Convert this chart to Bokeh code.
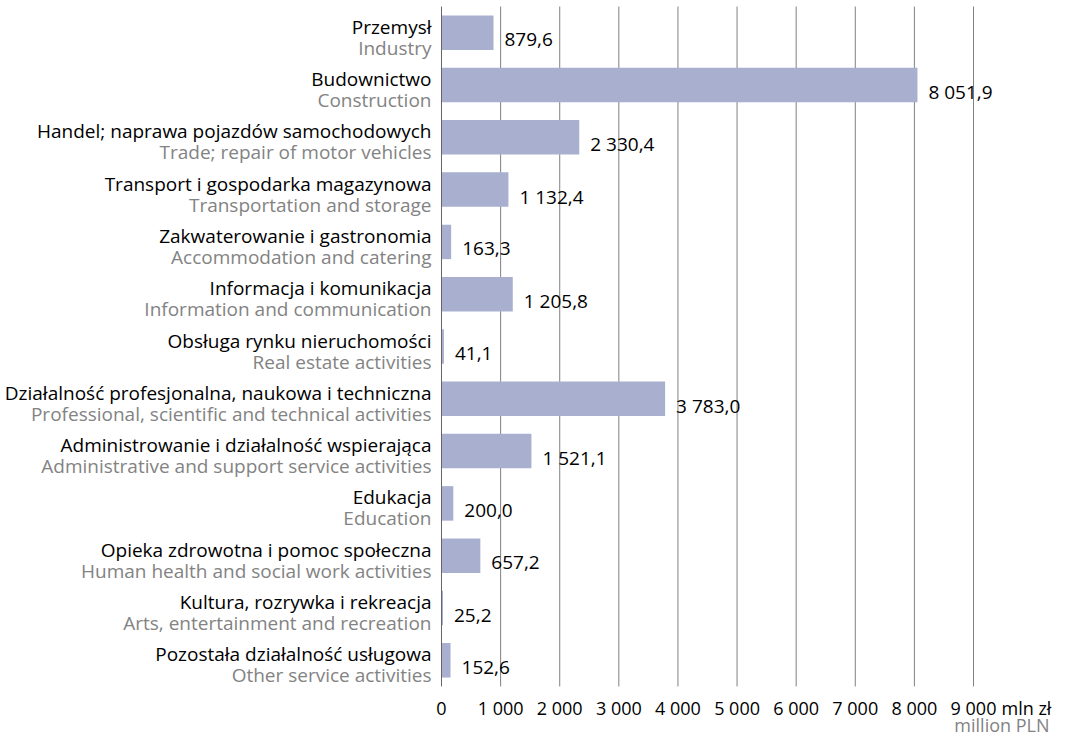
from bokeh.plotting import figure
from bokeh.models import Range1d, ColumnDataSource
from bokeh.core.properties import value
from bokeh.embed import file_html
from bokeh.resources import INLINE

labels_pl = ["Przemysł", "Budownictwo", "Handel; naprawa pojazdów samochodowych",
             "Transport i gospodarka magazynowa", "Zakwaterowanie i gastronomia",
             "Informacja i komunikacja", "Obsługa rynku nieruchomości",
             "Działalność profesjonalna, naukowa i techniczna",
             "Administrowanie i działalność wspierająca", "Edukacja",
             "Opieka zdrowotna i pomoc społeczna", "Kultura, rozrywka i rekreacja",
             "Pozostała działalność usługowa"]
labels_en = ["Industry", "Construction", "Trade; repair of motor vehicles",
             "Transportation and storage", "Accommodation and catering",
             "Information and communication", "Real estate activities",
             "Professional, scientific and technical activities",
             "Administrative and support service activities", "Education",
             "Human health and social work activities", "Arts, entertainment and recreation",
             "Other service activities"]
values = [879.6, 8051.9, 2330.4, 1132.4, 163.3, 1205.8, 41.1, 3783.0, 1521.1, 200.0, 657.2, 25.2, 152.6]
x_ticks = [0, 1000, 2000, 3000, 4000, 5000, 6000, 7000, 8000, 9000]
unit_pl = "mln zł"
unit_en = "million PLN"

FONT = value("Open Sans")
FS = "19px"
FS_TICK = "18px"
W, H = 1056, 736

n = len(values)
ypos = list(range(n))

# layout (pixels)
x0_px, xmax_px = 441.0, 973.0       # pixel of value 0 and of last tick
band_px, y0_px = 52.3, 32.2          # band step and centre of first band
xs = (xmax_px - x0_px) / x_ticks[-1]
x_start = -x0_px / xs
x_end = (W - x0_px) / xs
y_top = -y0_px / band_px
y_bot = (H - y0_px) / band_px


def fmt(v, dec=1):
    s = f"{v:,.{dec}f}"
    return s.replace(",", " ").replace(".", ",")


p = figure(width=W, height=H, output_backend="svg", toolbar_location=None,
           x_range=Range1d(x_start, x_end), y_range=Range1d(y_bot, y_top),
           min_border=0, x_axis_type=None, y_axis_type=None)
p.outline_line_color = None
p.background_fill_color = "white"
p.border_fill_color = "white"
p.grid.visible = False

edge_top, edge_bot = -0.5, n - 0.5

# vertical grid lines
p.segment(x0=x_ticks[1:], x1=x_ticks[1:], y0=edge_top, y1=edge_bot,
          line_color="#808080", line_width=1)

# bars
src = ColumnDataSource(dict(y=ypos, v=values, lab=[fmt(v) for v in values],
                            pl=labels_pl, en=labels_en, zero=[0] * n))
p.hbar(y="y", right="v", left=0, height=0.66, source=src, fill_color="#a8afcf", line_color=None)

# left axis line
p.segment(x0=[0], x1=[0], y0=[edge_top], y1=[edge_bot], line_color="#666666", line_width=1)

# category labels
p.text(x="zero", y="y", text="pl", source=src, x_offset=-10, y_offset=-6,
       text_align="right", text_baseline="alphabetic", text_font=FONT,
       text_font_size=FS, text_color="black")
p.text(x="zero", y="y", text="en", source=src, x_offset=-10, y_offset=15,
       text_align="right", text_baseline="alphabetic", text_font=FONT,
       text_font_size=FS, text_color="#838383")

# value labels
p.text(x="v", y="y", text="lab", source=src, x_offset=11, y_offset=7,
       text_align="left", text_baseline="alphabetic", text_font=FONT,
       text_font_size=FS, text_color="black")

# x tick labels
tick_src = ColumnDataSource(dict(x=x_ticks, y=[edge_bot] * len(x_ticks),
                                 t=[fmt(t, 0) for t in x_ticks]))
p.text(x="x", y="y", text="t", source=tick_src, y_offset=22,
       text_align="center", text_baseline="alphabetic", text_font=FONT,
       text_font_size=FS_TICK, text_color="black")

# unit labels
p.text(x=[x_ticks[-1]], y=[edge_bot], text=[unit_pl], x_offset=28, y_offset=22,
       text_align="left", text_baseline="alphabetic", text_font=FONT,
       text_font_size=FS_TICK, text_color="black")
p.text(x=[x_ticks[-1]], y=[edge_bot], text=[unit_en], x_offset=76, y_offset=39,
       text_align="right", text_baseline="alphabetic", text_font=FONT,
       text_font_size=FS_TICK, text_color="#838383")

open("out.html", "w").write(file_html(p, INLINE))
